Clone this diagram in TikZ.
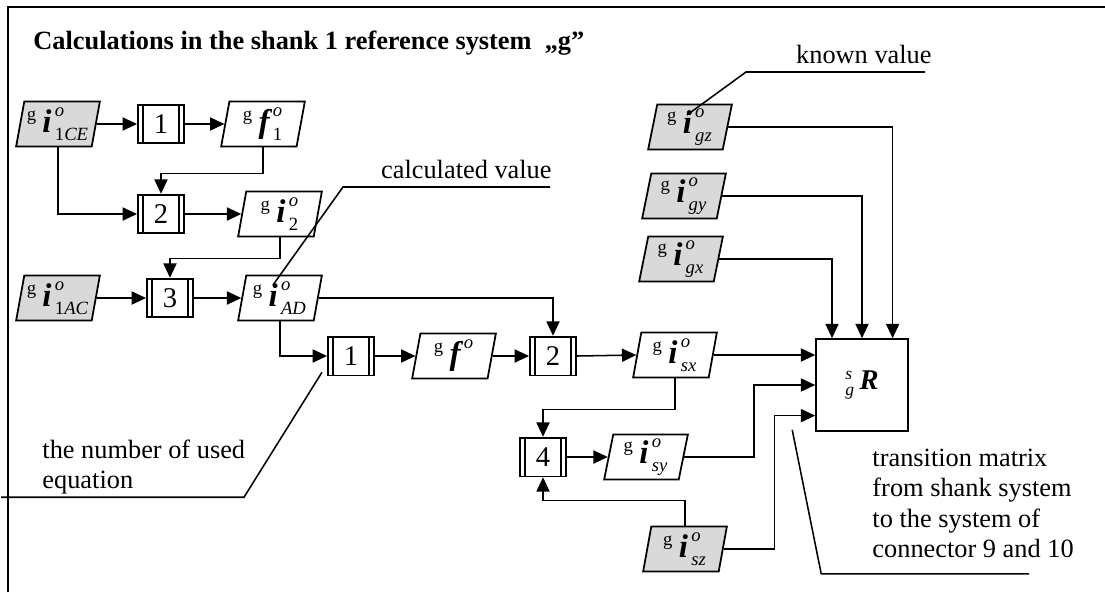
\documentclass[tikz,border=0pt]{standalone}
\usepackage{amsmath}
\usepackage{fontspec}
\setmainfont{Liberation Serif}
\usetikzlibrary{shapes.geometric, arrows.meta}
\DeclareMathSizes{15}{15}{8.5}{6}
\DeclareMathSizes{13}{13}{8}{6}

\newcommand{\gvec}[3]{${}^{\text{g}}\,\text{\bfseries\itshape #1\kern0.1em}^{\text{\itshape #2}}_{\text{#3}}$}

\begin{document}
\begin{tikzpicture}[x=0.016cm, y=-0.016cm,
    knownval/.style={trapezium, trapezium left angle=76, trapezium right angle=104, trapezium stretches body, draw=black, line width=0.8pt, fill=black!15, minimum width=1.34cm, minimum height=0.72cm, inner sep=0pt, font=\fontsize{15}{17}\selectfont},
    calcval/.style={knownval, fill=white},
    eqbox/.style={rectangle, draw=black, line width=0.8pt, minimum width=0.74cm, minimum height=0.62cm, inner sep=0pt, font=\fontsize{13}{15}\selectfont,
        path picture={\draw[line width=0.6pt] ([xshift=0.08cm]path picture bounding box.north west) -- ([xshift=0.08cm]path picture bounding box.south west)
            ([xshift=-0.08cm]path picture bounding box.north east) -- ([xshift=-0.08cm]path picture bounding box.south east);}},
    matrixbox/.style={rectangle, draw=black, line width=0.8pt, minimum size=1.47cm, inner sep=0pt, font=\fontsize{13}{15}\selectfont},
    arrow/.style={-{Triangle[length=0.23cm, width=0.21cm]}, line width=0.7pt},
    leader/.style={line width=0.7pt},
    note/.style={font=\fontsize{12}{13.7}\selectfont, inner sep=0pt, align=left}
]
\useasboundingbox (0,0) rectangle (1105,592);

% frame and title
\draw[line width=1pt] (8,592) -- (8,7) -- (1105,7);
\node[anchor=base west, inner sep=0pt, font=\bfseries\fontsize{12}{14}\selectfont] (title) at (33,49) {Calculations in the shank 1 reference system\ \ „g”};

% left chain
\node[knownval] (i1ce) at (58,124) {\gvec{i}{o}{1\itshape CE}};
\node[eqbox] (eq1) at (161,124) {1};
\node[calcval] (f1) at (263,124) {\gvec{f}{o}{1}};
\node[eqbox] (eq2) at (161,214) {2};
\node[calcval] (i2) at (280,214) {\gvec{i}{o}{2}};
\node[knownval] (i1ac) at (58,298) {\gvec{i}{o}{1\itshape AC}};
\node[eqbox] (eq3) at (170,298) {3};
\node[calcval] (iad) at (280,298) {\gvec{i}{o}{\itshape AD}};

% middle chain
\node[eqbox] (eq1b) at (351,356) {1};
\node[calcval] (f) at (454,356) {\gvec{f}{o}{}};
\node[eqbox] (eq2b) at (553,356) {2};
\node[calcval] (isx) at (675,355) {\gvec{i}{o}{\itshape sx}};
\node[eqbox] (eq4) at (543,457) {4};
\node[calcval] (isy) at (646,457) {\gvec{i}{o}{\itshape sy}};
\node[knownval] (isz) at (685,549) {\gvec{i}{o}{\itshape sz}};

% known values and matrix
\node[knownval] (igz) at (690,127) {\gvec{i}{o}{\itshape gz}};
\node[knownval] (igy) at (684,196) {\gvec{i}{o}{\itshape gy}};
\node[knownval] (igx) at (681,259) {\gvec{i}{o}{\itshape gx}};
\node[matrixbox] (R) at (862,385) {${}^{\text{\itshape s}}_{\text{\itshape g}}\,\text{\bfseries\itshape R}$};

% flow arrows
\draw[arrow] (i1ce.east) -- (eq1.west);
\draw[arrow] (eq1.east) -- (f1.west);
\draw[arrow] (f1.south) -- ++(0,26) -| (eq2.north);
\draw[arrow] (i1ce.south) |- (eq2.west);
\draw[arrow] (eq2.east) -- (i2.west);
\draw[arrow] (i2.south) -- ++(0,21) -| (eq3.north);
\draw[arrow] (i1ac.east) -- (eq3.west);
\draw[arrow] (eq3.east) -- (iad.west);
\draw[arrow] (iad.east) -| (eq2b.north);
\draw[arrow] (iad.south) |- (eq1b.west);
\draw[arrow] (eq1b.east) -- (f.west);
\draw[arrow] (f.east) -- (eq2b.west);
\draw[arrow] (eq2b.east) -- (isx.west);
\draw[arrow] (isx.east) -- (isx.east -| R.west);
\draw[arrow] (isx.south) -- ++(0,31) -| (eq4.north);
\draw[arrow] (eq4.east) -- (isy.west);
\draw[arrow] (isy.east) -- ++(70,0) |- (R.west);
\draw[arrow] (isz.north) -- ++(0,-25) -| (eq4.south);
\draw[arrow] (isz.east) -- ++(51,0) |- ([yshift=-0.49cm]R.west);
\draw[arrow] (igz.east) -| ([xshift=0.49cm]R.north);
\draw[arrow] (igy.east) -| (R.north);
\draw[arrow] (igx.east) -| ([xshift=-0.48cm]R.north);

% notes
\node[note, anchor=base east] (calctext) at (552,178) {calculated value};
\draw[leader] ([shift={(-7,-13)}]iad.center) -- ++(70,-98) -- ++(207,0);
\node[note, anchor=base east] (knowntext) at (932,63) {known value};
\draw[leader] ([shift={(-3,-12)}]igz.center) -- ++(59,-43) -- ++(179,0);
\node[note, anchor=north west] (numtext) at (42,439) {the number of used\\equation};
\draw[leader] ([shift={(-5,-4)}]eq1b.south west) -- ++(-78,125) -- ++(-243,0);
\node[note, anchor=north west] (transtext) at (872,449) {transition matrix\\from shank system\\to the system of\\connector 9 and 10};
\draw[leader] ([shift={(-23,-2)}]R.south west) -- ++(29,144) -- ++(208,0);

\end{tikzpicture}
\end{document}
